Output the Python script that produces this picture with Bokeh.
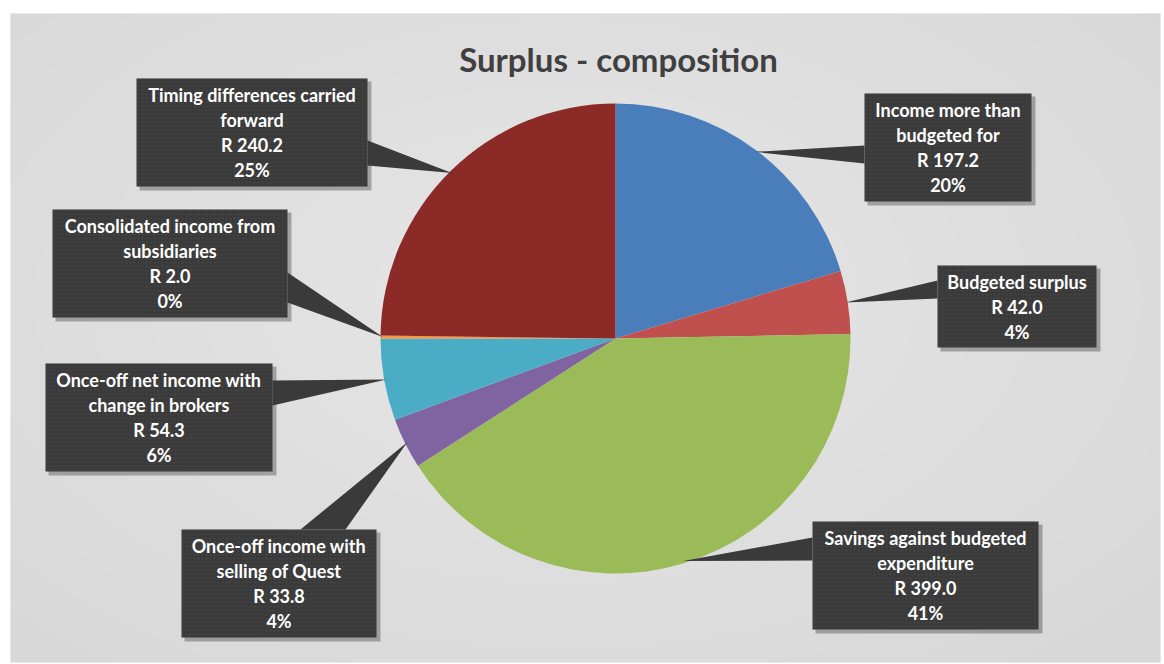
import numpy as np
from bokeh.plotting import figure
from bokeh.models import ColumnDataSource, Range1d
from bokeh.core.properties import value
from bokeh.embed import file_html
from bokeh.resources import INLINE

# ---- data ----
labels = [
    "Income more than budgeted for",
    "Budgeted surplus",
    "Savings against budgeted expenditure",
    "Once-off income with selling of Quest",
    "Once-off net income with change in brokers",
    "Consolidated income from subsidiaries",
    "Timing differences carried forward",
]
label_lines = [
    ["Income more than", "budgeted for"],
    ["Budgeted surplus"],
    ["Savings against budgeted", "expenditure"],
    ["Once-off income with", "selling of Quest"],
    ["Once-off net income with", "change in brokers"],
    ["Consolidated income from", "subsidiaries"],
    ["Timing differences carried", "forward"],
]
values = [197.2, 42.0, 399.0, 33.8, 54.3, 2.0, 240.2]
pct_labels = ["20%", "4%", "41%", "4%", "6%", "0%", "25%"]
colors = ["#4a7ebb", "#c0504d", "#9bbb59", "#8064a2", "#4bacc6", "#f79646", "#8b2a26"]

W, H = 1164, 664
FONT = "Lato"

def Y(py):
    return H - py

p = figure(width=W, height=H, output_backend="svg", toolbar_location=None,
           x_range=Range1d(0, W), y_range=Range1d(0, H),
           x_axis_type=None, y_axis_type=None, min_border=0,
           outline_line_color=None)
p.grid.visible = False
p.background_fill_color = "white"
p.border_fill_color = "white"

# chart background panel with soft light centre
p.quad(left=[10], right=[1160], top=[Y(13)], bottom=[Y(662)],
       fill_color="#d8d8d8", line_color="#e8e8e8", line_width=1)
for i in range(12):
    s = 1 - i * 0.075
    p.ellipse(x=[560], y=[Y(300)], width=[1500 * s], height=[900 * s],
              fill_color="white", fill_alpha=0.045, line_color=None)

# ---- pie ----
cx, cy, R = 615, Y(338), 235
vals = np.array(values)
frac = vals / vals.sum()
cum_end = np.cumsum(frac)
cum_start = cum_end - frac
start = np.pi / 2 - cum_end * 2 * np.pi
end = np.pi / 2 - cum_start * 2 * np.pi
src = ColumnDataSource(dict(start=start, end=end, color=colors))
p.wedge(x=cx, y=cy, radius=R, start_angle="start", end_angle="end",
        fill_color="color", line_color=None, source=src)

mid = np.pi / 2 - (cum_start + cum_end) / 2 * 2 * np.pi
tip_x = cx + R * 0.99 * np.cos(mid)
tip_y = cy + R * 0.99 * np.sin(mid)

# ---- callout boxes (pixel layout: left, right, top, bottom) ----
boxes = [
    (864, 1031, 93, 201),
    (937, 1096, 265, 347),
    (812, 1038, 521, 629),
    (181, 376, 529, 637),
    (45, 272, 363, 471),
    (52, 287, 209, 317),
    (136, 367, 78, 186),
]
# leader base points on box edges (pixel)
bases = [
    ((864, 145), (864, 163)),
    ((937, 280), (937, 298)),
    ((812, 537), (812, 560)),
    ((300, 529), (345, 529)),
    ((272, 380), (272, 405)),
    ((287, 272), (287, 302)),
    ((367, 140), (367, 165)),
]

for i in range(len(values)):
    l, r, t, b = boxes[i]
    (bx1, by1), (bx2, by2) = bases[i]
    # shadow
    p.quad(left=[l + 3], right=[r + 4], top=[Y(t + 3)], bottom=[Y(b + 4)],
           fill_color="#000000", fill_alpha=0.28, line_color=None)
    p.patch(x=[bx1, tip_x[i], bx2], y=[Y(by1), tip_y[i], Y(by2)],
            fill_color="#3a3a3a", line_color=None)
    p.quad(left=[l], right=[r], top=[Y(t)], bottom=[Y(b)],
           fill_color="#3a3a3a", line_color=None,
           hatch_pattern="dot", hatch_color="#4c4c4c", hatch_scale=4, hatch_alpha=0.6)
    lines = label_lines[i] + ["R %.1f" % values[i], pct_labels[i]]
    n = len(lines)
    ccy = (t + b) / 2
    ys = [Y(ccy + (k - (n - 1) / 2) * 25) for k in range(n)]
    p.text(x=[(l + r) / 2] * n, y=ys, text=lines, text_font=value(FONT),
           text_font_style="bold", text_font_size="18px", text_color="white",
           text_align="center", text_baseline="middle")

# title
p.text(x=[618], y=[Y(58)], text=["Surplus - composition"], text_font=value(FONT),
       text_font_style="bold", text_font_size="33px", text_color="#404040",
       text_align="center", text_baseline="middle")

open("out.html", "w").write(file_html(p, INLINE))
